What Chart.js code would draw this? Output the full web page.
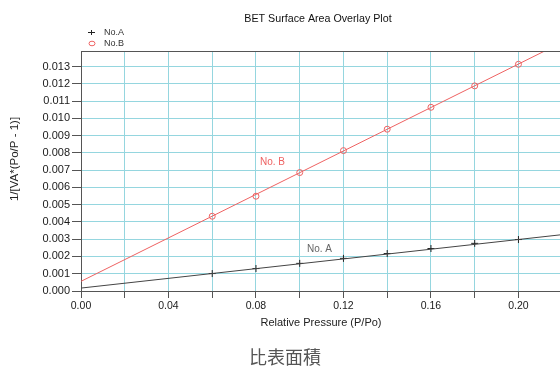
<!DOCTYPE html>
<html>
<head>
<meta charset="utf-8">
<script src="https://cdn.jsdelivr.net/npm/chart.js@4.4.1/dist/chart.umd.min.js"></script>
<style>
  html, body { margin: 0; padding: 0; background: #fff; }
  #wrap { width: 560px; height: 367px; }
</style>
</head>
<body>
<div id="wrap"><canvas id="bet" width="560" height="367"></canvas></div>
<script>
// Relative pressure of the measured points (P/Po)
const relPressure = [0.06, 0.08, 0.10, 0.12, 0.14, 0.16, 0.18, 0.20];
// 1/[VA*(Po/P - 1)] for each sample
const sampleA = [0.00101, 0.00130, 0.00160, 0.00189, 0.00217, 0.00246, 0.00276, 0.00298];
const sampleB = [0.00433, 0.00549, 0.00686, 0.00813, 0.00937, 0.01064, 0.01188, 0.01313];
// BET linear fits, evaluated at the ends of the pressure range
const fitPressure = [0, 0.219];
const fitA = [0.00017, 0.00325];
const fitB = [0.00056, 0.01434];
// Axis ranges and tick steps
const xRange = [0, 0.219];
const yRange = [0, 0.0139];
const xStep = 0.02;
const xLabelStep = 0.04;
const yStep = 0.001;
// Texts
const seriesNames = ['No.A', 'No.B'];
const lineTags = ['No. A', 'No. B'];
const tagAnchors = [[0.1033, 0.00242], [0.0818, 0.00746]];
const chartTitle = 'BET Surface Area Overlay Plot';
const xTitle = 'Relative Pressure (P/Po)';
const yTitle = '1/[VA*(Po/P - 1)]';
const caption = '比表面積';

const FONT = '"Liberation Sans", Arial, sans-serif';
const GRID = '#95d6df';
const AXIS = '#555555';
const RED = '#ee6262';
const DARK = '#333333';

const pts = (xs, ys) => xs.map((x, i) => ({ x: x, y: ys[i] }));
const isMultiple = (v, step) => Math.abs(v / step - Math.round(v / step)) < 1e-6;
// regular ticks from the lower bound up to the upper bound
const stepTicks = (range, step) => {
  const out = [];
  for (let i = 0; range[0] + i * step <= range[1] + 1e-12; i++) {
    out.push({ value: +(range[0] + i * step).toFixed(6) });
  }
  return out;
};

const textPlugin = {
  id: 'betText',
  afterDraw(chart) {
    const ctx = chart.ctx;
    const a = chart.chartArea;
    const xs = chart.scales.x, ys = chart.scales.y;
    ctx.save();

    // top frame line
    ctx.strokeStyle = AXIS;
    ctx.lineWidth = 1;
    ctx.beginPath();
    ctx.moveTo(a.left, Math.round(a.top) + 0.5);
    ctx.lineTo(a.right, Math.round(a.top) + 0.5);
    ctx.stroke();

    ctx.textBaseline = 'middle';

    // title
    ctx.fillStyle = '#111';
    ctx.font = '10.7px ' + FONT;
    ctx.textAlign = 'center';
    ctx.fillText(chartTitle, 318, 19);

    // x axis title
    ctx.fillStyle = '#222';
    ctx.font = '11px ' + FONT;
    ctx.fillText(xTitle, 321, 323);

    // y axis title
    ctx.save();
    ctx.translate(15, 159);
    ctx.rotate(-Math.PI / 2);
    ctx.font = '11.5px ' + FONT;
    ctx.fillText(yTitle, 0, 0);
    ctx.restore();

    // legend
    ctx.font = '9px ' + FONT;
    ctx.textAlign = 'left';
    ctx.fillStyle = DARK;
    ctx.strokeStyle = '#222';
    ctx.beginPath();
    ctx.moveTo(88, 32.5); ctx.lineTo(95, 32.5);
    ctx.moveTo(91.5, 30); ctx.lineTo(91.5, 35);
    ctx.stroke();
    ctx.fillText(seriesNames[0], 104, 33);
    ctx.strokeStyle = RED;
    ctx.beginPath();
    ctx.ellipse(92, 43.5, 3, 2.3, 0, 0, Math.PI * 2);
    ctx.stroke();
    ctx.fillText(seriesNames[1], 104, 44);

    // line tags
    ctx.font = '10px ' + FONT;
    ctx.fillStyle = '#666';
    ctx.fillText(lineTags[0], xs.getPixelForValue(tagAnchors[0][0]), ys.getPixelForValue(tagAnchors[0][1]));
    ctx.fillStyle = RED;
    ctx.fillText(lineTags[1], xs.getPixelForValue(tagAnchors[1][0]), ys.getPixelForValue(tagAnchors[1][1]));

    // caption
    ctx.fillStyle = '#555';
    ctx.font = '18px "Noto Sans CJK TC", "Noto Sans CJK SC", sans-serif';
    ctx.textAlign = 'center';
    ctx.fillText(caption, 285, 357);

    ctx.restore();
  }
};

new Chart(document.getElementById('bet'), {
  type: 'scatter',
  data: {
    datasets: [
      {
        label: 'fit A',
        data: pts(fitPressure, fitA),
        showLine: true,
        borderColor: '#444',
        borderWidth: 1,
        pointRadius: 0
      },
      {
        label: 'fit B',
        data: pts(fitPressure, fitB),
        showLine: true,
        borderColor: RED,
        borderWidth: 1,
        pointRadius: 0
      },
      {
        label: seriesNames[0],
        data: pts(relPressure, sampleA),
        pointStyle: 'cross',
        pointRadius: 3.5,
        borderColor: '#222',
        borderWidth: 1
      },
      {
        label: seriesNames[1],
        data: pts(relPressure, sampleB),
        pointStyle: 'circle',
        pointRadius: 3,
        borderColor: RED,
        backgroundColor: 'rgba(0,0,0,0)',
        borderWidth: 1
      }
    ]
  },
  options: {
    responsive: false,
    animation: false,
    events: [],
    layout: { autoPadding: false, padding: { top: 51, right: 0, bottom: 46, left: 0 } },
    plugins: {
      legend: { display: false },
      title: { display: false },
      tooltip: { enabled: false }
    },
    scales: {
      x: {
        type: 'linear',
        min: xRange[0],
        max: xRange[1],
        afterBuildTicks: s => { s.ticks = stepTicks(xRange, xStep); },
        afterFit: s => { s.height = 30; s.paddingLeft = 0; s.paddingRight = 0; },
        ticks: {
          autoSkip: false,
          maxRotation: 0,
          padding: 2,
          color: '#1a1a1a',
          font: { family: FONT, size: 10.5 },
          callback: v => isMultiple(v, xLabelStep) ? v.toFixed(2) : ''
        },
        grid: { color: GRID, tickColor: AXIS, tickLength: 7, lineWidth: 1 },
        border: { display: true, color: AXIS, width: 1 }
      },
      y: {
        type: 'linear',
        min: yRange[0],
        max: yRange[1],
        afterBuildTicks: s => { s.ticks = stepTicks(yRange, yStep); },
        afterFit: s => { s.width = 81; s.paddingTop = 0; s.paddingBottom = 0; },
        ticks: {
          autoSkip: false,
          padding: 2,
          color: '#1a1a1a',
          font: { family: FONT, size: 11 },
          callback: v => v.toFixed(3)
        },
        grid: { color: GRID, tickColor: AXIS, tickLength: 9, lineWidth: 1 },
        border: { display: true, color: AXIS, width: 1 }
      }
    }
  },
  plugins: [textPlugin]
});
</script>
</body>
</html>
